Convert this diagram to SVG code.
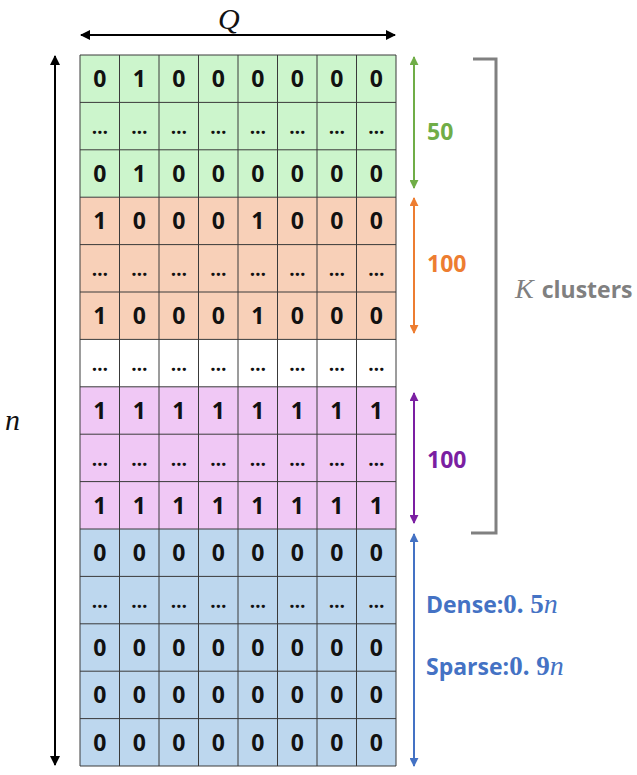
<svg xmlns="http://www.w3.org/2000/svg" width="637" height="775" viewBox="0 0 637 775">
<style>
.c{font-family:"Open Sans","Liberation Sans",sans-serif;font-weight:bold;font-size:23px;fill:#111;text-anchor:middle}
.e{font-family:"Open Sans","Liberation Sans",sans-serif;font-weight:bold;font-size:19px;fill:#111;text-anchor:middle}
.g{stroke:#3a3a3a;stroke-width:1;fill:none}
.m{font-family:"Liberation Serif","DejaVu Serif",serif;font-style:italic;font-size:30px;fill:#111}
.lbl{font-family:"Open Sans","Liberation Sans",sans-serif;font-weight:bold;font-size:23px}
.mv{font-family:"Liberation Serif","DejaVu Serif",serif;font-size:27px;font-weight:bold}
.mi{font-family:"Liberation Serif","DejaVu Serif",serif;font-size:28px;font-style:italic;font-weight:normal}
</style>
<defs>
<marker id="ak" viewBox="0 0 10 10" refX="9" refY="5" markerWidth="5" markerHeight="5" orient="auto-start-reverse"><path d="M0,0L10,5L0,10z" fill="#000"/></marker>
<marker id="agr" viewBox="0 0 10 10" refX="9" refY="5" markerWidth="4.5" markerHeight="4.5" orient="auto-start-reverse"><path d="M0,0L10,5L0,10z" fill="#70AD47"/></marker>
<marker id="aor" viewBox="0 0 10 10" refX="9" refY="5" markerWidth="4.5" markerHeight="4.5" orient="auto-start-reverse"><path d="M0,0L10,5L0,10z" fill="#ED7D31"/></marker>
<marker id="apu" viewBox="0 0 10 10" refX="9" refY="5" markerWidth="4.5" markerHeight="4.5" orient="auto-start-reverse"><path d="M0,0L10,5L0,10z" fill="#7B1FA2"/></marker>
<marker id="abl" viewBox="0 0 10 10" refX="9" refY="5" markerWidth="4.5" markerHeight="4.5" orient="auto-start-reverse"><path d="M0,0L10,5L0,10z" fill="#4472C4"/></marker>
</defs>
<rect width="637" height="775" fill="#fff"/>

<g id="band-green">
<rect x="80" y="55" width="316" height="142.2" fill="#CCF5CC"/>
</g>
<g id="band-orange">
<rect x="80" y="197.2" width="316" height="142.2" fill="#F8D0B8"/>
</g>
<g id="band-white">
<rect x="80" y="339.4" width="316" height="47.4" fill="#FFFFFF"/>
</g>
<g id="band-purple">
<rect x="80" y="386.8" width="316" height="142.2" fill="#F0C8F5"/>
</g>
<g id="band-blue">
<rect x="80" y="529" width="316" height="237" fill="#BDD7EE"/>
</g>

<g id="grid" class="g">
<path d="M80,55V766M119.5,55V766M159,55V766M198.5,55V766M238,55V766M277.5,55V766M317,55V766M356.5,55V766M396,55V766"/>
<path d="M80,55H396M80,102.4H396M80,149.8H396M80,197.2H396M80,244.6H396M80,292H396M80,339.4H396M80,386.8H396M80,434.2H396M80,481.6H396M80,529H396M80,576.4H396M80,623.8H396M80,671.2H396M80,718.6H396M80,766H396"/>
</g>

<g id="cells">
<g id="r1"><text class="c" x="99.75" y="87">0</text><text class="c" x="139.25" y="87">1</text><text class="c" x="178.75" y="87">0</text><text class="c" x="218.25" y="87">0</text><text class="c" x="257.75" y="87">0</text><text class="c" x="297.25" y="87">0</text><text class="c" x="336.75" y="87">0</text><text class="c" x="376.25" y="87">0</text></g>
<g id="r2"><text class="e" x="99.75" y="134">…</text><text class="e" x="139.25" y="134">…</text><text class="e" x="178.75" y="134">…</text><text class="e" x="218.25" y="134">…</text><text class="e" x="257.75" y="134">…</text><text class="e" x="297.25" y="134">…</text><text class="e" x="336.75" y="134">…</text><text class="e" x="376.25" y="134">…</text></g>
<g id="r3"><text class="c" x="99.75" y="181.8">0</text><text class="c" x="139.25" y="181.8">1</text><text class="c" x="178.75" y="181.8">0</text><text class="c" x="218.25" y="181.8">0</text><text class="c" x="257.75" y="181.8">0</text><text class="c" x="297.25" y="181.8">0</text><text class="c" x="336.75" y="181.8">0</text><text class="c" x="376.25" y="181.8">0</text></g>
<g id="r4"><text class="c" x="99.75" y="229.2">1</text><text class="c" x="139.25" y="229.2">0</text><text class="c" x="178.75" y="229.2">0</text><text class="c" x="218.25" y="229.2">0</text><text class="c" x="257.75" y="229.2">1</text><text class="c" x="297.25" y="229.2">0</text><text class="c" x="336.75" y="229.2">0</text><text class="c" x="376.25" y="229.2">0</text></g>
<g id="r5"><text class="e" x="99.75" y="276.2">…</text><text class="e" x="139.25" y="276.2">…</text><text class="e" x="178.75" y="276.2">…</text><text class="e" x="218.25" y="276.2">…</text><text class="e" x="257.75" y="276.2">…</text><text class="e" x="297.25" y="276.2">…</text><text class="e" x="336.75" y="276.2">…</text><text class="e" x="376.25" y="276.2">…</text></g>
<g id="r6"><text class="c" x="99.75" y="324">1</text><text class="c" x="139.25" y="324">0</text><text class="c" x="178.75" y="324">0</text><text class="c" x="218.25" y="324">0</text><text class="c" x="257.75" y="324">1</text><text class="c" x="297.25" y="324">0</text><text class="c" x="336.75" y="324">0</text><text class="c" x="376.25" y="324">0</text></g>
<g id="r7"><text class="e" x="99.75" y="371">…</text><text class="e" x="139.25" y="371">…</text><text class="e" x="178.75" y="371">…</text><text class="e" x="218.25" y="371">…</text><text class="e" x="257.75" y="371">…</text><text class="e" x="297.25" y="371">…</text><text class="e" x="336.75" y="371">…</text><text class="e" x="376.25" y="371">…</text></g>
<g id="r8"><text class="c" x="99.75" y="418.8">1</text><text class="c" x="139.25" y="418.8">1</text><text class="c" x="178.75" y="418.8">1</text><text class="c" x="218.25" y="418.8">1</text><text class="c" x="257.75" y="418.8">1</text><text class="c" x="297.25" y="418.8">1</text><text class="c" x="336.75" y="418.8">1</text><text class="c" x="376.25" y="418.8">1</text></g>
<g id="r9"><text class="e" x="99.75" y="465.8">…</text><text class="e" x="139.25" y="465.8">…</text><text class="e" x="178.75" y="465.8">…</text><text class="e" x="218.25" y="465.8">…</text><text class="e" x="257.75" y="465.8">…</text><text class="e" x="297.25" y="465.8">…</text><text class="e" x="336.75" y="465.8">…</text><text class="e" x="376.25" y="465.8">…</text></g>
<g id="r10"><text class="c" x="99.75" y="513.6">1</text><text class="c" x="139.25" y="513.6">1</text><text class="c" x="178.75" y="513.6">1</text><text class="c" x="218.25" y="513.6">1</text><text class="c" x="257.75" y="513.6">1</text><text class="c" x="297.25" y="513.6">1</text><text class="c" x="336.75" y="513.6">1</text><text class="c" x="376.25" y="513.6">1</text></g>
<g id="r11"><text class="c" x="99.75" y="561">0</text><text class="c" x="139.25" y="561">0</text><text class="c" x="178.75" y="561">0</text><text class="c" x="218.25" y="561">0</text><text class="c" x="257.75" y="561">0</text><text class="c" x="297.25" y="561">0</text><text class="c" x="336.75" y="561">0</text><text class="c" x="376.25" y="561">0</text></g>
<g id="r12"><text class="e" x="99.75" y="608">…</text><text class="e" x="139.25" y="608">…</text><text class="e" x="178.75" y="608">…</text><text class="e" x="218.25" y="608">…</text><text class="e" x="257.75" y="608">…</text><text class="e" x="297.25" y="608">…</text><text class="e" x="336.75" y="608">…</text><text class="e" x="376.25" y="608">…</text></g>
<g id="r13"><text class="c" x="99.75" y="655.8">0</text><text class="c" x="139.25" y="655.8">0</text><text class="c" x="178.75" y="655.8">0</text><text class="c" x="218.25" y="655.8">0</text><text class="c" x="257.75" y="655.8">0</text><text class="c" x="297.25" y="655.8">0</text><text class="c" x="336.75" y="655.8">0</text><text class="c" x="376.25" y="655.8">0</text></g>
<g id="r14"><text class="c" x="99.75" y="703.2">0</text><text class="c" x="139.25" y="703.2">0</text><text class="c" x="178.75" y="703.2">0</text><text class="c" x="218.25" y="703.2">0</text><text class="c" x="257.75" y="703.2">0</text><text class="c" x="297.25" y="703.2">0</text><text class="c" x="336.75" y="703.2">0</text><text class="c" x="376.25" y="703.2">0</text></g>
<g id="r15"><text class="c" x="99.75" y="750.6">0</text><text class="c" x="139.25" y="750.6">0</text><text class="c" x="178.75" y="750.6">0</text><text class="c" x="218.25" y="750.6">0</text><text class="c" x="257.75" y="750.6">0</text><text class="c" x="297.25" y="750.6">0</text><text class="c" x="336.75" y="750.6">0</text><text class="c" x="376.25" y="750.6">0</text></g>
</g>

<g id="connectors" fill="none">
<line x1="81" y1="35" x2="395" y2="35" stroke="#000" stroke-width="2" marker-start="url(#ak)" marker-end="url(#ak)"/>
<line x1="55" y1="56" x2="55" y2="765" stroke="#000" stroke-width="2" marker-start="url(#ak)" marker-end="url(#ak)"/>
<line x1="414" y1="57" x2="414" y2="188" stroke="#70AD47" stroke-width="2" marker-start="url(#agr)" marker-end="url(#agr)"/>
<line x1="414" y1="198" x2="414" y2="333" stroke="#ED7D31" stroke-width="2" marker-start="url(#aor)" marker-end="url(#aor)"/>
<line x1="414" y1="393" x2="414" y2="523" stroke="#7B1FA2" stroke-width="2" marker-start="url(#apu)" marker-end="url(#apu)"/>
<line x1="414" y1="534" x2="414" y2="766" stroke="#4472C4" stroke-width="2" marker-start="url(#abl)" marker-end="url(#abl)"/>
<path d="M473,59H496V533H471" stroke="#808080" stroke-width="3"/>
</g>

<g id="labels">
<text class="m" x="218" y="29">Q</text>
<text class="m" x="5" y="430">n</text>
<text class="lbl" x="427" y="140" fill="#70AD47">50</text>
<text class="lbl" x="427" y="272" fill="#ED7D31">100</text>
<text class="lbl" x="427" y="468" fill="#7B1FA2">100</text>
<text x="515" y="298" fill="#808080"><tspan class="mi">K</tspan><tspan class="lbl" dx="8">clusters</tspan></text>
<text x="426" y="613" fill="#4472C4"><tspan class="lbl">Dense:</tspan><tspan class="mv">0. 5</tspan><tspan class="mi">n</tspan></text>
<text x="426" y="675" fill="#4472C4"><tspan class="lbl">Sparse:</tspan><tspan class="mv">0. 9</tspan><tspan class="mi">n</tspan></text>
</g>
</svg>
